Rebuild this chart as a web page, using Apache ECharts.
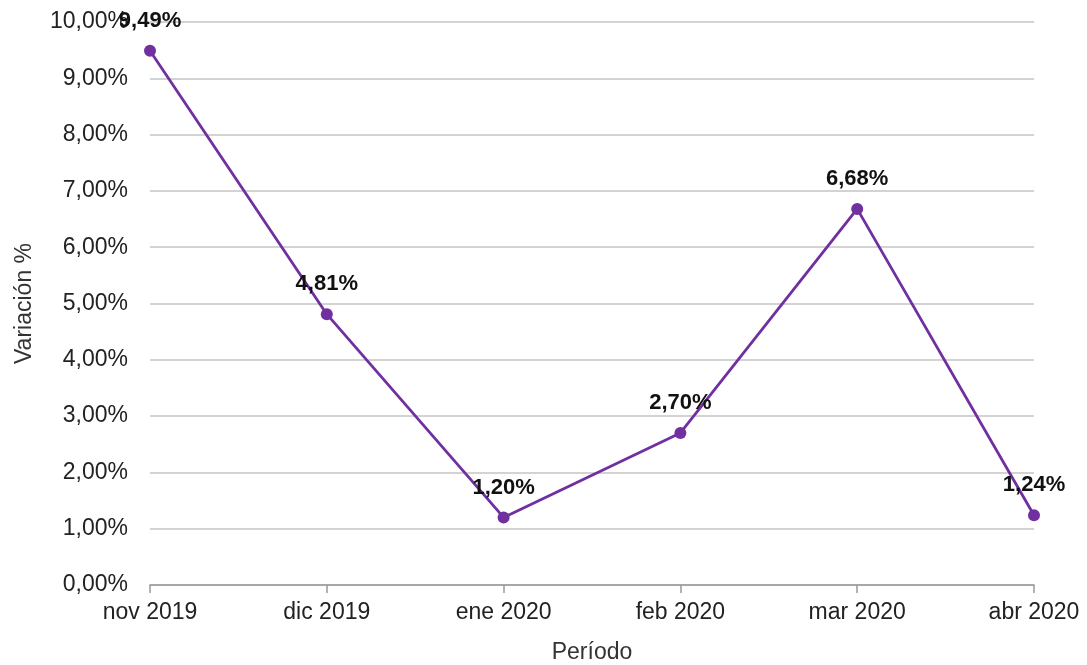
<!DOCTYPE html>
<html><head><meta charset="utf-8">
<script src="https://cdn.jsdelivr.net/npm/echarts@6/dist/echarts.min.js"></script>
<style>html,body{margin:0;padding:0;background:#fff}#c{width:1087px;height:665px}</style>
</head><body><div id="c"></div>
<script>
const categories = ['nov 2019','dic 2019','ene 2020','feb 2020','mar 2020','abr 2020'];
const values = [9.49, 4.81, 1.20, 2.70, 6.68, 1.24];
const yTicks = [0,1,2,3,4,5,6,7,8,9,10];
const fmt = v => v.toFixed(2).replace('.', ',') + '%';
const chart = echarts.init(document.getElementById('c'));
chart.setOption({
  animation:false,
  textStyle:{fontFamily:'Liberation Sans, Arial, sans-serif'},
  grid:{left:150,right:53,top:22,bottom:80,containLabel:false,outerBoundsMode:'none'},
  xAxis:{type:'category',data:categories,boundaryGap:false,
    name:'Período',nameLocation:'middle',nameGap:56,
    nameTextStyle:{fontSize:23,color:'#333'},
    axisLine:{lineStyle:{color:'#999',width:1.5}},
    axisTick:{show:true,length:8,alignWithLabel:true,lineStyle:{color:'#999',width:1.5}},
    axisLabel:{fontSize:23,color:'#222',margin:16},
    splitLine:{show:false}},
  yAxis:{type:'value',min:yTicks[0],max:yTicks[yTicks.length-1],interval:1,
    name:'Variación %',nameLocation:'middle',nameGap:114,nameRotate:90,
    nameTextStyle:{fontSize:23,color:'#333'},
    axisLine:{show:false},axisTick:{show:false},
    axisLabel:{fontSize:23,color:'#222',margin:22,formatter:v=>fmt(v)},
    splitLine:{lineStyle:{color:'#c4c4c4',width:1.5}}},
  series:[{type:'line',data:values,
    lineStyle:{color:'#7030A0',width:2.8},
    itemStyle:{color:'#7030A0'},
    symbol:'circle',symbolSize:12,
    label:{show:true,position:'top',distance:13,fontSize:22,fontWeight:'bold',color:'#111',formatter:p=>fmt(p.value)}}]
});
</script></body></html>
